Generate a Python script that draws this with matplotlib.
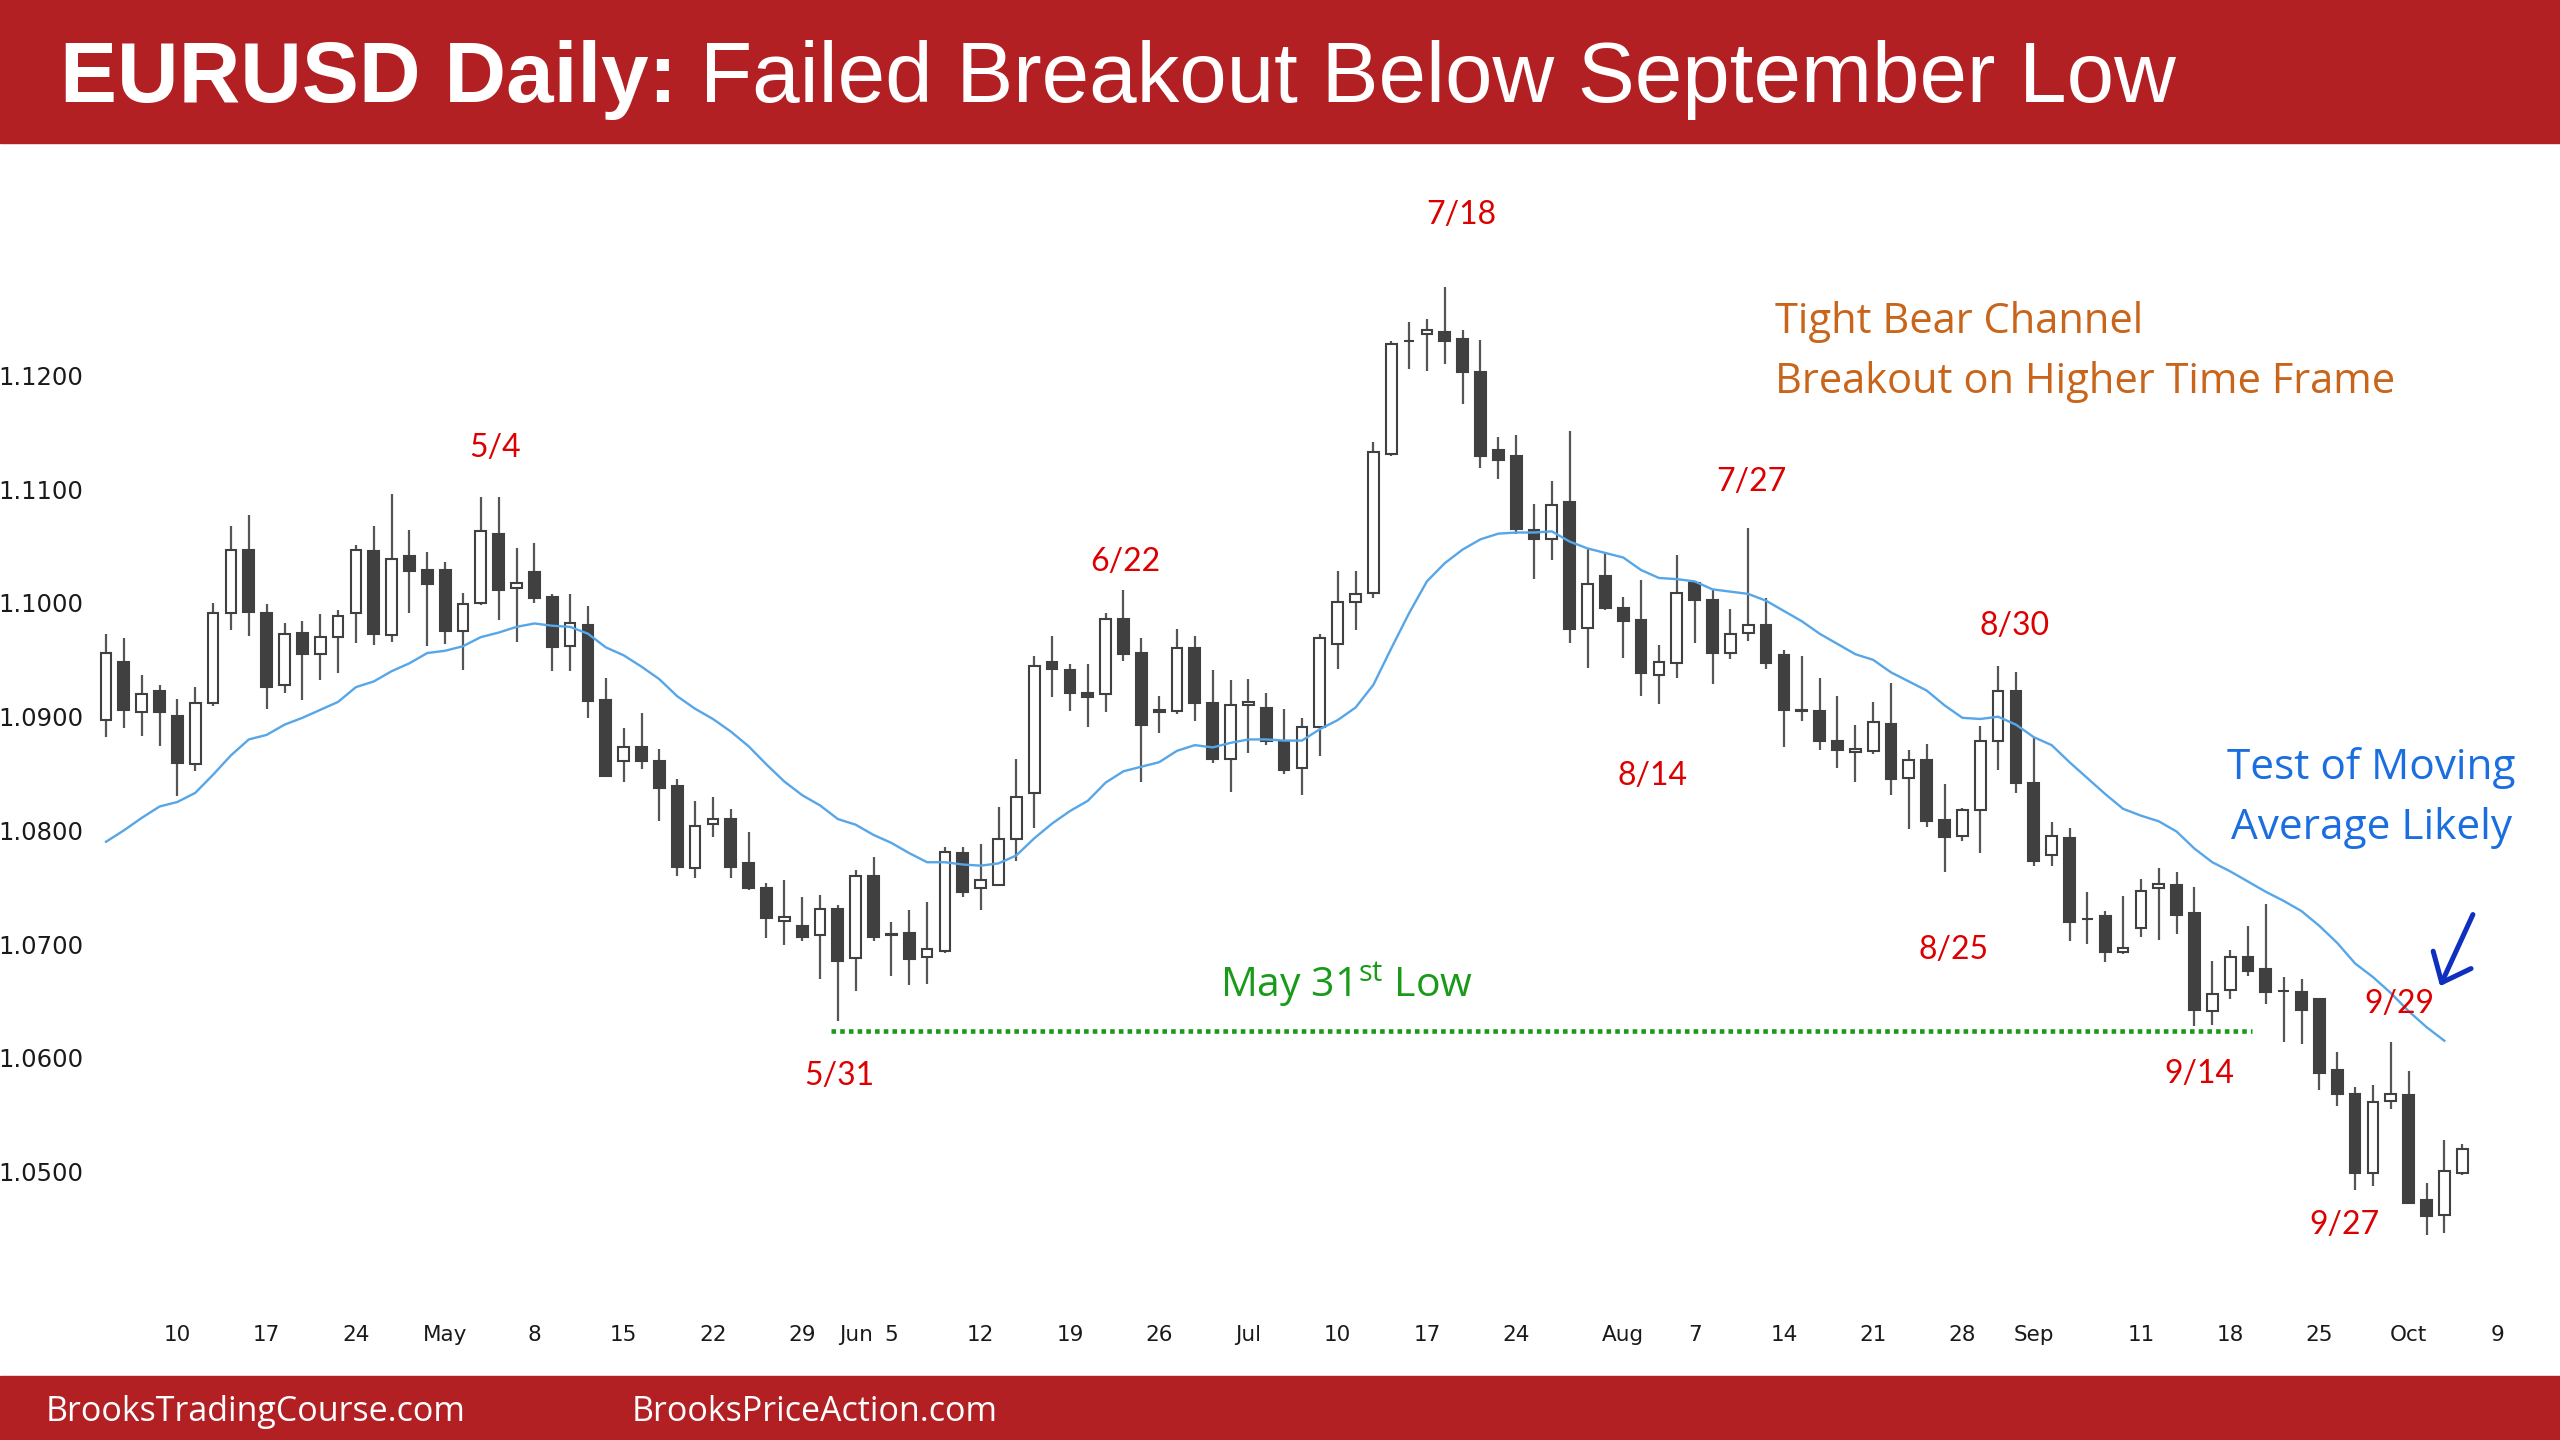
import matplotlib
matplotlib.use("Agg")
import matplotlib.pyplot as plt
import numpy as np
import pandas as pd
from matplotlib.patches import Rectangle

plt.rcParams['mathtext.fontset'] = 'custom'
plt.rcParams['mathtext.rm'] = 'Open Sans'

# EURUSD daily bars 2023-04-04 .. 2023-10-05
opens = [1.0897, 1.0948, 1.0904, 1.0923, 1.0901, 1.0858, 1.0912, 1.0991, 1.1047, 1.0991,
         1.0928, 1.0974, 1.0955, 1.0970, 1.0991, 1.1046, 1.0972, 1.1041, 1.1029, 1.1029,
         1.0975, 1.1000, 1.1061, 1.1013, 1.1027, 1.1005, 1.0962, 1.0981, 1.0915, 1.0861,
         1.0873, 1.0861, 1.0839, 1.0767, 1.0806, 1.0810, 1.0771, 1.0749, 1.0720, 1.0716,
         1.0708, 1.0731, 1.0688, 1.0760, 1.0709, 1.0710, 1.0689, 1.0694, 1.0780, 1.0749,
         1.0752, 1.0792, 1.0833, 1.0948, 1.0941, 1.0921, 1.0920, 1.0986, 1.0956, 1.0904,
         1.0905, 1.0960, 1.0912, 1.0863, 1.0910, 1.0908, 1.0879, 1.0855, 1.0891, 1.0964,
         1.1001, 1.1009, 1.1131, 1.1230, 1.1237, 1.1238, 1.1232, 1.1203, 1.1135, 1.1129,
         1.1064, 1.1056, 1.1089, 1.0978, 1.1024, 1.0996, 1.0985, 1.0937, 1.0947, 1.1018,
         1.1003, 1.0956, 1.0974, 1.0981, 1.0954, 1.0906, 1.0905, 1.0879, 1.0869, 1.0870,
         1.0894, 1.0846, 1.0862, 1.0809, 1.0795, 1.0818, 1.0879, 1.0923, 1.0842, 1.0778,
         1.0793, 1.0722, 1.0725, 1.0693, 1.0714, 1.0749, 1.0752, 1.0727, 1.0641, 1.0660,
         1.0689, 1.0678, 1.0659, 1.0658, 1.0652, 1.0589, 1.0568, 1.0499, 1.0562, 1.0567,
         1.0475, 1.0462, 1.0499]
highs = [1.0973, 1.0969, 1.0937, 1.0928, 1.0916, 1.0926, 1.1000, 1.1068, 1.1077, 1.0999,
         1.0982, 1.0984, 1.0990, 1.0994, 1.1051, 1.1068, 1.1096, 1.1064, 1.1045, 1.1036,
         1.1009, 1.1093, 1.1093, 1.1048, 1.1053, 1.1008, 1.1008, 1.0997, 1.0934, 1.0890,
         1.0903, 1.0872, 1.0845, 1.0826, 1.0829, 1.0819, 1.0799, 1.0754, 1.0756, 1.0741,
         1.0743, 1.0734, 1.0765, 1.0777, 1.0719, 1.0730, 1.0737, 1.0785, 1.0785, 1.0788,
         1.0821, 1.0863, 1.0953, 1.0971, 1.0946, 1.0946, 1.0991, 1.1011, 1.0969, 1.0918,
         1.0977, 1.0971, 1.0941, 1.0932, 1.0933, 1.0921, 1.0907, 1.0899, 1.0973, 1.1028,
         1.1028, 1.1142, 1.1230, 1.1247, 1.1250, 1.1278, 1.1240, 1.1231, 1.1146, 1.1148,
         1.1087, 1.1107, 1.1151, 1.1048, 1.1045, 1.1005, 1.1020, 1.0963, 1.1042, 1.1019,
         1.1011, 1.0995, 1.1066, 1.1004, 1.0959, 1.0953, 1.0934, 1.0918, 1.0893, 1.0913,
         1.0930, 1.0871, 1.0876, 1.0841, 1.0820, 1.0892, 1.0945, 1.0939, 1.0882, 1.0807,
         1.0802, 1.0746, 1.0729, 1.0742, 1.0757, 1.0767, 1.0763, 1.0750, 1.0685, 1.0695,
         1.0716, 1.0735, 1.0671, 1.0669, 1.0653, 1.0605, 1.0574, 1.0576, 1.0614, 1.0588,
         1.0490, 1.0528, 1.0524]
lows = [1.0882, 1.0890, 1.0883, 1.0874, 1.0830, 1.0852, 1.0909, 1.0976, 1.0971, 1.0907,
        1.0921, 1.0915, 1.0932, 1.0938, 1.0965, 1.0963, 1.0966, 1.0991, 1.0962, 1.0964,
        1.0941, 1.0998, 1.0985, 1.0966, 1.1000, 1.0940, 1.0940, 1.0899, 1.0847, 1.0843,
        1.0854, 1.0808, 1.0760, 1.0758, 1.0794, 1.0758, 1.0748, 1.0705, 1.0699, 1.0703,
        1.0669, 1.0632, 1.0659, 1.0703, 1.0672, 1.0664, 1.0665, 1.0692, 1.0741, 1.0730,
        1.0751, 1.0773, 1.0802, 1.0917, 1.0905, 1.0891, 1.0904, 1.0949, 1.0843, 1.0886,
        1.0902, 1.0896, 1.0859, 1.0834, 1.0868, 1.0875, 1.0850, 1.0831, 1.0865, 1.0942,
        1.0976, 1.1004, 1.1129, 1.1206, 1.1204, 1.1210, 1.1175, 1.1119, 1.1109, 1.1061,
        1.1021, 1.1038, 1.0965, 1.0943, 1.0994, 1.0952, 1.0918, 1.0911, 1.0934, 1.0965,
        1.0929, 1.0951, 1.0967, 1.0942, 1.0873, 1.0896, 1.0871, 1.0855, 1.0843, 1.0867,
        1.0831, 1.0801, 1.0803, 1.0763, 1.0791, 1.0780, 1.0853, 1.0833, 1.0769, 1.0769,
        1.0703, 1.0700, 1.0684, 1.0691, 1.0706, 1.0704, 1.0709, 1.0628, 1.0629, 1.0652,
        1.0672, 1.0647, 1.0614, 1.0612, 1.0572, 1.0558, 1.0484, 1.0487, 1.0555, 1.0472,
        1.0444, 1.0446, 1.0497]
closes = [1.0956, 1.0906, 1.0920, 1.0904, 1.0859, 1.0912, 1.0991, 1.1047, 1.0992, 1.0926,
          1.0973, 1.0955, 1.0970, 1.0989, 1.1047, 1.0973, 1.1039, 1.1028, 1.1017, 1.0975,
          1.0999, 1.1063, 1.1011, 1.1018, 1.1004, 1.0961, 1.0982, 1.0914, 1.0848, 1.0873,
          1.0861, 1.0837, 1.0768, 1.0804, 1.0810, 1.0768, 1.0749, 1.0723, 1.0724, 1.0706,
          1.0731, 1.0685, 1.0760, 1.0706, 1.0708, 1.0687, 1.0696, 1.0781, 1.0746, 1.0756,
          1.0792, 1.0829, 1.0945, 1.0942, 1.0921, 1.0917, 1.0986, 1.0955, 1.0893, 1.0906,
          1.0960, 1.0912, 1.0863, 1.0910, 1.0913, 1.0879, 1.0853, 1.0891, 1.0969, 1.1001,
          1.1008, 1.1133, 1.1228, 1.1230, 1.1240, 1.1230, 1.1203, 1.1129, 1.1126, 1.1065,
          1.1056, 1.1086, 1.0977, 1.1017, 1.0996, 1.0984, 1.0938, 1.0948, 1.1009, 1.1003,
          1.0956, 1.0973, 1.0981, 1.0947, 1.0906, 1.0905, 1.0879, 1.0871, 1.0872, 1.0895,
          1.0845, 1.0862, 1.0808, 1.0794, 1.0818, 1.0879, 1.0923, 1.0842, 1.0773, 1.0795,
          1.0719, 1.0722, 1.0693, 1.0697, 1.0747, 1.0753, 1.0726, 1.0642, 1.0656, 1.0689,
          1.0676, 1.0658, 1.0659, 1.0642, 1.0587, 1.0568, 1.0499, 1.0561, 1.0568, 1.0472,
          1.0461, 1.0500, 1.0520]
# moving average line as drawn (no value on the last bar)
moving_avg = [1.0790, 1.0800, 1.0811, 1.0821, 1.0825, 1.0833, 1.0849, 1.0866, 1.0880, 1.0884,
              1.0893, 1.0899, 1.0906, 1.0913, 1.0926, 1.0931, 1.0940, 1.0947, 1.0956, 1.0958,
              1.0962, 1.0970, 1.0974, 1.0979, 1.0982, 1.0980, 1.0979, 1.0973, 1.0961, 1.0954,
              1.0944, 1.0933, 1.0918, 1.0907, 1.0898, 1.0887, 1.0874, 1.0858, 1.0843, 1.0831,
              1.0822, 1.0810, 1.0805, 1.0796, 1.0789, 1.0780, 1.0772, 1.0772, 1.0770, 1.0769,
              1.0771, 1.0778, 1.0793, 1.0806, 1.0817, 1.0826, 1.0842, 1.0852, 1.0856, 1.0860,
              1.0870, 1.0875, 1.0873, 1.0877, 1.0880, 1.0880, 1.0879, 1.0879, 1.0889, 1.0897,
              1.0908, 1.0928, 1.0960, 1.0991, 1.1019, 1.1035, 1.1047, 1.1056, 1.1061, 1.1062,
              1.1062, 1.1063, 1.1054, 1.1048, 1.1044, 1.1040, 1.1029, 1.1022, 1.1021, 1.1019,
              1.1012, 1.1010, 1.1008, 1.1002, 1.0993, 1.0984, 1.0973, 1.0964, 1.0955, 1.0950,
              1.0939, 1.0931, 1.0923, 1.0910, 1.0899, 1.0898, 1.0900, 1.0893, 1.0882, 1.0875,
              1.0860, 1.0846, 1.0832, 1.0819, 1.0813, 1.0808, 1.0799, 1.0784, 1.0772, 1.0764,
              1.0755, 1.0746, 1.0738, 1.0729, 1.0716, 1.0701, 1.0683, 1.0671, 1.0657, 1.0641,
              1.0627, 1.0615, np.nan]
may31_low = 1.0624
price_ticks = [1.05, 1.06, 1.07, 1.08, 1.09, 1.10, 1.11, 1.12]

bar_days = pd.bdate_range("2023-04-04", periods=len(closes))
axis_days = pd.bdate_range("2023-04-04", "2023-10-09")

RED = '#b22024'
DARK = '#404040'
W, H = 2560, 1440

fig = plt.figure(figsize=(25.6, 14.4), dpi=100)
fig.patch.set_facecolor('white')

# axes placed so bars sit where the reference has them
left_px, right_px, top_px, bot_px = 90, 2540, 160, 1300
ax = fig.add_axes([left_px / W, 1 - bot_px / H, (right_px - left_px) / W, (bot_px - top_px) / H])
bar_px = 17.85
ax.set_xlim(-(106 - left_px) / bar_px, (right_px - 106) / bar_px)
ax.set_ylim(1.12 - (bot_px - 375.6) / 11370, 1.12 + (375.6 - top_px) / 11370)
for s in ax.spines.values():
    s.set_visible(False)

x = np.arange(len(closes))
o = np.array(opens); c = np.array(closes)
h = np.array(highs); l = np.array(lows)
up = c >= o

ax.vlines(x, l, h, color='#555555', lw=1.6, zorder=2)
ax.bar(x[up], (c - o)[up], bottom=o[up], width=0.6, color='white',
       edgecolor=DARK, linewidth=1.5, zorder=3)
ax.bar(x[~up], (o - c)[~up], bottom=c[~up], width=0.6, color=DARK,
       edgecolor=DARK, linewidth=1.5, zorder=3)
ax.plot(x, moving_avg, color='#56a6e8', lw=1.7, zorder=4)

# May 31 low line
ax.plot([40.6, 120.2], [may31_low, may31_low], color='#1a9a1a', lw=3.3,
        linestyle=(0, (1, 0.9)), dash_capstyle='butt', zorder=4)

# ticks: Mondays plus the first bar of each month, Mondays too close to a month tick dropped
ax.set_yticks(price_ticks)
ax.set_yticklabels([f'{v:.4f}' for v in price_ticks])
month_ticks = [i for i in range(1, len(axis_days))
               if axis_days[i].month != axis_days[i - 1].month]
tick_map = {i: axis_days[i].strftime('%b') for i in month_ticks}
for i, d in enumerate(axis_days):
    if d.weekday() == 0 and i not in tick_map:
        if all(abs(i - m) >= 2 for m in month_ticks):
            tick_map[i] = str(d.day)
ticks = sorted(tick_map)
ax.set_xticks(ticks)
ax.set_xticklabels([tick_map[i] for i in ticks])
ax.tick_params(axis='y', length=0, pad=5, labelsize=17.5, labelcolor='#1a1a1a')
ax.tick_params(axis='x', length=0, pad=18, labelsize=15.5, labelcolor='#1a1a1a')

# date annotations
red_kw = dict(color='#dd0000', fontsize=23, family='Lato', ha='center', va='center', zorder=5)
date_notes = [('7/18', 75.95, 1.1341), ('5/4', 21.8, 1.1136), ('6/22', 57.1, 1.1036),
              ('7/27', 92.2, 1.1106), ('8/14', 86.65, 1.0848), ('8/30', 106.9, 1.0980),
              ('8/25', 103.5, 1.0695), ('5/31', 41.1, 1.0584), ('9/14', 117.3, 1.0586),
              ('9/29', 128.5, 1.0647), ('9/27', 125.4, 1.0453)]
for txt, xi, yi in date_notes:
    ax.text(xi, yi, txt, **red_kw)

ax.text(69.5, 1.0664, r'May 31$^{\mathrm{st}}$ Low', color='#1a9a1a', fontsize=29.5,
        family='Open Sans', ha='center', va='center')
ax.text(93.5, 1.1247, 'Tight Bear Channel', color='#c8651b', fontsize=30,
        family='Open Sans', ha='left', va='center')
ax.text(93.5, 1.1194, 'Breakout on Higher Time Frame', color='#c8651b', fontsize=30,
        family='Open Sans', ha='left', va='center')
ax.text(126.9, 1.0855, 'Test of Moving', color='#1a6ee0', fontsize=30.5,
        family='Open Sans', ha='center', va='center')
ax.text(126.9, 1.0802, 'Average Likely', color='#1a6ee0', fontsize=30.5,
        family='Open Sans', ha='center', va='center')
ax.annotate('', xy=(130.76, 1.0663), xytext=(132.6, 1.0726),
            arrowprops=dict(arrowstyle='->,head_length=0.6,head_width=0.5',
                            color='#0f2fbf', lw=3.6, mutation_scale=30, shrinkA=0, shrinkB=0))

# banners
fig.add_artist(Rectangle((0, 1 - 143 / H), 1, 143 / H, transform=fig.transFigure,
                         color=RED, zorder=0))
fig.add_artist(Rectangle((0, 0), 1, 64 / H, transform=fig.transFigure,
                         color=RED, zorder=0))
fig.text(60 / W, 1 - 102 / H, 'EURUSD Daily:', color='white', fontsize=61.5,
         fontweight='bold', family='Liberation Sans', va='baseline')
fig.text(700 / W, 1 - 102 / H, 'Failed Breakout Below September Low', color='white',
         fontsize=61.5, family='Liberation Sans', va='baseline')
fig.text(46 / W, 1 - 1412 / H, 'BrooksTradingCourse.com', color='white', fontsize=24.5,
         family='Open Sans', va='center')
fig.text(632 / W, 1 - 1412 / H, 'BrooksPriceAction.com', color='white', fontsize=24.5,
         family='Open Sans', va='center')

fig.savefig('out.png', dpi=100, facecolor='white')
